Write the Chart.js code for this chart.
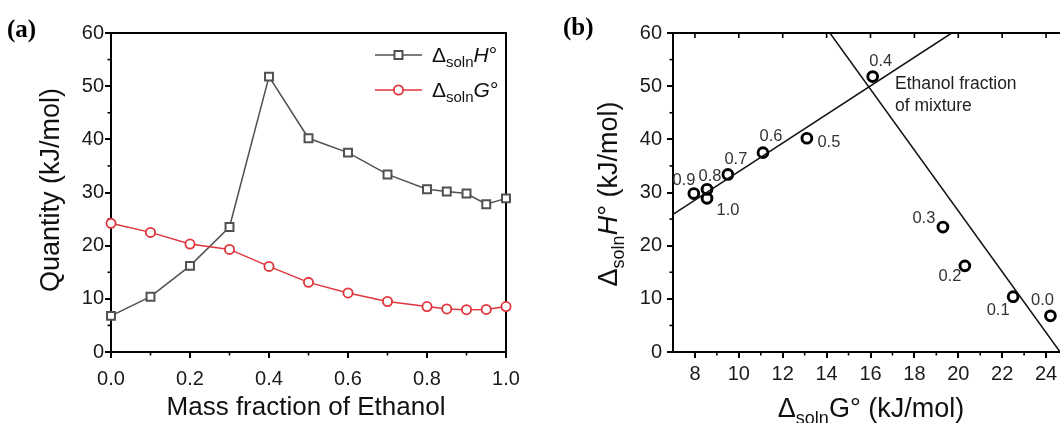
<!DOCTYPE html>
<html><head><meta charset="utf-8">
<script src="https://cdn.jsdelivr.net/npm/chart.js@4.4.1/dist/chart.umd.min.js"></script>
<style>
html,body{margin:0;padding:0;background:#fff;overflow:hidden;width:1060px;height:423px;position:relative;}
#ca{position:absolute;left:0;top:0;}
#cb{position:absolute;left:530px;top:0;}
</style></head><body>
<canvas id="ca" width="530" height="423"></canvas>
<canvas id="cb" width="560" height="423"></canvas>
<script>
// ---------- data ----------
const massFraction = [0.0, 0.1, 0.2, 0.3, 0.4, 0.5, 0.6, 0.7, 0.8, 0.85, 0.9, 0.95, 1.0];
const dH = [6.8, 10.4, 16.2, 23.5, 51.8, 40.2, 37.5, 33.4, 30.6, 30.2, 29.8, 27.8, 28.9];
const dG = [24.2, 22.5, 20.3, 19.3, 16.1, 13.1, 11.1, 9.5, 8.55, 8.1, 7.95, 8.0, 8.55];
const fractionsB = [0.0, 0.1, 0.2, 0.3, 0.4, 0.5, 0.6, 0.7, 0.8, 0.9, 1.0];
const risingFitG = [7, 19.7];
const risingFitH = [25.9, 60];
const fallingFitG = [14.15, 24.64];
const fallingFitH = [60, 0];
const xTicksA = [0, 0.2, 0.4, 0.6, 0.8, 1.0];
const xMinorA = [0.1, 0.3, 0.5, 0.7, 0.9];
const yTicks = [0, 10, 20, 30, 40, 50, 60];
const yMinor = [5, 15, 25, 35, 45, 55];
const xTicksB = [8, 10, 12, 14, 16, 18, 20, 22, 24];
const xMinorB = [9, 11, 13, 15, 17, 19, 21, 23];

// ---------- styling helpers ----------
const FONT = '"Liberation Sans", Arial, Helvetica, sans-serif';
const SERIF = '"Liberation Serif", "Times New Roman", serif';
const labelOffsetsB = [[-8,-15],[-15,14],[-15,11],[-19,-9],[8,-15],[22,4],[8,-16],[8,-15],[3,-13],[-10,-13],[21,12]];

function richText(ctx, parts, x, y, rot, align) {
  ctx.save();
  ctx.translate(x, y);
  ctx.rotate(rot || 0);
  ctx.textBaseline = 'alphabetic';
  ctx.textAlign = 'left';
  let total = 0;
  const ws = parts.map(p => {
    ctx.font = (p.it ? 'italic ' : '') + p.s + 'px ' + FONT;
    const w = ctx.measureText(p.t).width; total += w; return w;
  });
  let cx = align === 'left' ? 0 : -total / 2;
  parts.forEach((p, i) => {
    ctx.font = (p.it ? 'italic ' : '') + p.s + 'px ' + FONT;
    ctx.fillStyle = p.c || '#111';
    ctx.fillText(p.t, cx, p.dy || 0);
    cx += ws[i];
  });
  ctx.restore();
}

function seg(ctx, x1, y1, x2, y2) { ctx.beginPath(); ctx.moveTo(x1, y1); ctx.lineTo(x2, y2); ctx.stroke(); }

function decor(opts) {
  return {
    id: 'decor',
    beforeDatasetsDraw(chart) {
      const { ctx, chartArea: a, scales } = chart;
      ctx.save();
      ctx.strokeStyle = '#000';
      ctx.lineWidth = 2;
      ctx.beginPath();
      ctx.moveTo(a.left, a.bottom); ctx.lineTo(a.left, a.top); ctx.lineTo(a.right, a.top);
      ctx.lineTo(a.right, a.bottom); ctx.closePath(); ctx.stroke();
      ctx.lineWidth = 1.6;
      opts.xMinor.forEach(v => { const p = scales.x.getPixelForValue(v); seg(ctx, p, a.bottom, p, a.bottom + 3.5); });
      yMinor.forEach(v => { const p = scales.y.getPixelForValue(v); seg(ctx, a.left, p, a.left - 3.5, p); });
      if (opts.topTicks) {
        opts.topTicks.forEach(v => { const p = scales.x.getPixelForValue(v); seg(ctx, p, a.top, p, a.top + 5); });
      }
      ctx.restore();
    },
    afterDraw(chart) {
      const { ctx } = chart;
      opts.draw(ctx, chart);
    }
  };
}

function baseScales(xTicks, xMin, xMax, xFmt, yWidth, xHeight, xPad, yPad) {
  const tickFont = { family: FONT, size: 20 };
  return {
    x: {
      type: 'linear', min: xMin, max: xMax,
      afterBuildTicks: s => { s.ticks = xTicks.map(v => ({ value: v })); },
      afterFit: s => { s.height = xHeight; },
      border: { display: false },
      grid: { display: true, drawOnChartArea: false, drawTicks: true, tickLength: 6, lineWidth: 2, color: '#000' },
      ticks: { font: tickFont, color: '#1a1a1a', padding: xPad, maxRotation: 0, callback: xFmt }
    },
    y: {
      type: 'linear', min: 0, max: 60,
      afterBuildTicks: s => { s.ticks = yTicks.map(v => ({ value: v })); },
      afterFit: s => { s.width = yWidth; },
      border: { display: false },
      grid: { display: true, drawOnChartArea: false, drawTicks: true, tickLength: 6, lineWidth: 2, color: '#000' },
      ticks: { font: tickFont, color: '#1a1a1a', padding: yPad, callback: v => String(v) }
    }
  };
}

// ---------- chart (a) ----------
const GRAY = '#505050', RED = '#e0353c';
new Chart(document.getElementById('ca'), {
  type: 'scatter',
  data: {
    datasets: [
      {
        label: 'G', data: massFraction.map((f, i) => ({ x: f, y: dG[i] })),
        showLine: true, borderColor: RED, borderWidth: 1.5, clip: false,
        pointStyle: 'circle', pointRadius: 4.6, pointBorderWidth: 1.8,
        pointBorderColor: RED, pointBackgroundColor: '#fff'
      },
      {
        label: 'H', data: massFraction.map((f, i) => ({ x: f, y: dH[i] })),
        showLine: true, borderColor: GRAY, borderWidth: 1.5, clip: false,
        pointStyle: 'rect', pointRadius: 5.6, pointBorderWidth: 2,
        pointBorderColor: GRAY, pointBackgroundColor: '#fff'
      }
    ]
  },
  options: {
    responsive: false, animation: false, devicePixelRatio: 1,
    layout: { padding: { left: 0, right: 24, top: 33, bottom: 0 } },
    plugins: { legend: { display: false }, tooltip: { enabled: false } },
    scales: baseScales(xTicksA, 0, 1, v => Number(v).toFixed(1), 111, 71, 9, 1)
  },
  plugins: [decor({
    xMinor: xMinorA,
    draw(ctx, chart) {
      ctx.save();
      ctx.font = 'bold 25px ' + SERIF; ctx.fillStyle = '#000'; ctx.textBaseline = 'alphabetic';
      ctx.fillText('(a)', 7, 37);
      ctx.restore();
      richText(ctx, [{ t: 'Mass fraction of Ethanol', s: 26 }], 306, 415, 0);
      richText(ctx, [{ t: 'Quantity (kJ/mol)', s: 27 }], 59, 190, -Math.PI / 2);
      // legend
      ctx.save();
      ctx.lineWidth = 1.5;
      ctx.strokeStyle = GRAY; seg(ctx, 375, 55, 422, 55);
      ctx.fillStyle = '#fff'; ctx.lineWidth = 2;
      ctx.beginPath(); ctx.rect(394.5, 51, 8, 8); ctx.fill(); ctx.stroke();
      ctx.lineWidth = 1.5; ctx.strokeStyle = RED; seg(ctx, 375, 90, 422, 90);
      ctx.lineWidth = 1.8; ctx.beginPath(); ctx.arc(398.5, 90, 4.6, 0, Math.PI * 2); ctx.fill(); ctx.stroke();
      ctx.restore();
      richText(ctx, [{ t: 'Δ', s: 21 }, { t: 'soln', s: 15, dy: 5 }, { t: 'H', s: 21, it: true }, { t: '°', s: 21 }], 432, 62, 0, 'left');
      richText(ctx, [{ t: 'Δ', s: 21 }, { t: 'soln', s: 15, dy: 5 }, { t: 'G', s: 21, it: true }, { t: '°', s: 21 }], 432, 97, 0, 'left');
    }
  })]
});

// ---------- chart (b) ----------
const OFF = 530;
const idxB = fractionsB.map(f => massFraction.indexOf(f));
new Chart(document.getElementById('cb'), {
  type: 'scatter',
  data: {
    datasets: [
      {
        label: 'rise', data: risingFitG.map((g, i) => ({ x: g, y: risingFitH[i] })),
        showLine: true, borderColor: '#111', borderWidth: 1.5, pointRadius: 0
      },
      {
        label: 'fall', data: fallingFitG.map((g, i) => ({ x: g, y: fallingFitH[i] })),
        showLine: true, borderColor: '#111', borderWidth: 1.5, pointRadius: 0
      },
      {
        label: 'pts', data: idxB.map(i => ({ x: dG[i], y: dH[i] })),
        showLine: false, pointStyle: 'circle', pointRadius: 4.9, pointBorderWidth: 2.9,
        pointBorderColor: '#000', pointBackgroundColor: 'rgba(255,255,255,0)'
      }
    ]
  },
  options: {
    responsive: false, animation: false, devicePixelRatio: 1,
    layout: { padding: { left: 0, right: 22, top: 33, bottom: 0 } },
    plugins: { legend: { display: false }, tooltip: { enabled: false } },
    scales: baseScales(xTicksB, 7, 25, v => String(v), 143, 71, 4, 5)
  },
  plugins: [decor({
    xMinor: xMinorB,
    topTicks: xTicksB,
    draw(ctx, chart) {
      ctx.save();
      ctx.font = 'bold 25px ' + SERIF; ctx.fillStyle = '#000'; ctx.textBaseline = 'alphabetic';
      ctx.fillText('(b)', 563 - OFF, 35);
      const meta = chart.getDatasetMeta(2);
      ctx.font = '16.5px ' + FONT; ctx.fillStyle = '#333'; ctx.textAlign = 'center'; ctx.textBaseline = 'middle';
      meta.data.forEach((el, k) => {
        const o = labelOffsetsB[k];
        ctx.fillText(fractionsB[k].toFixed(1), el.x + o[0], el.y + o[1]);
      });
      ctx.textAlign = 'left'; ctx.font = '17.5px ' + FONT; ctx.fillStyle = '#222';
      ctx.fillText('Ethanol fraction', 895 - OFF, 84);
      ctx.fillText('of mixture', 895 - OFF, 106);
      ctx.restore();
      richText(ctx, [{ t: 'Δ', s: 27 }, { t: 'soln', s: 18, dy: 7 }, { t: 'G', s: 27 }, { t: '° (kJ/mol)', s: 27 }], 871 - OFF, 417, 0);
      richText(ctx, [{ t: 'Δ', s: 27 }, { t: 'soln', s: 18, dy: 7 }, { t: 'H', s: 27, it: true }, { t: '° (kJ/mol)', s: 27 }], 617 - OFF, 194, -Math.PI / 2);
    }
  })]
});
</script>
</body></html>
